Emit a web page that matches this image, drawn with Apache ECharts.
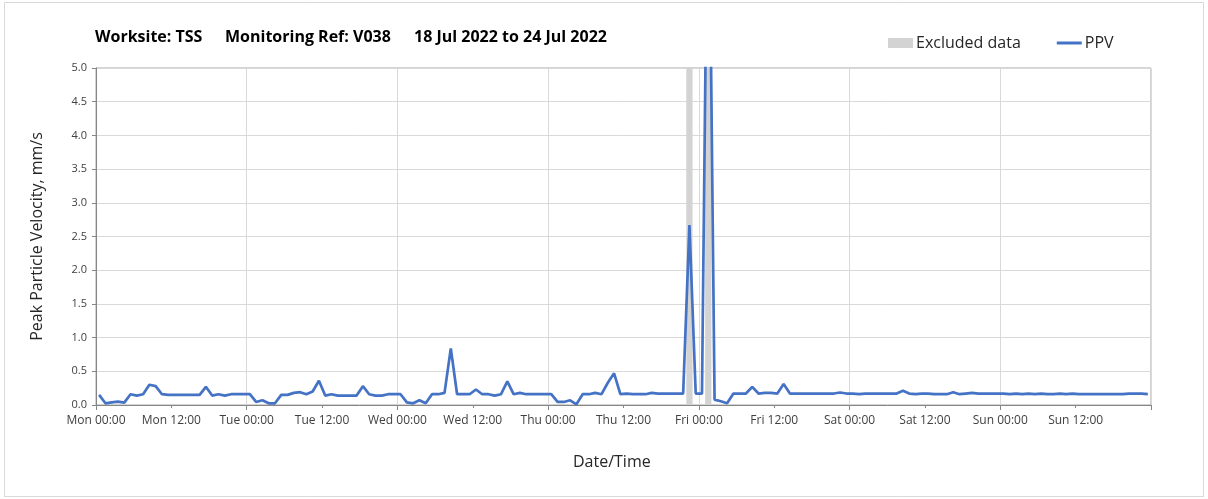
<!DOCTYPE html>
<html>
<head>
<meta charset="utf-8">
<script src="https://cdn.jsdelivr.net/npm/echarts@6/dist/echarts.min.js"></script>
<style>
html,body{margin:0;padding:0;background:#fff;}
#chart{width:1208px;height:499px;}
</style>
</head>
<body>
<div id="chart"></div>
<script>
// Day names for tick labels (axis in hours from Mon 00:00)
const dayNames = ['Mon', 'Tue', 'Wed', 'Thu', 'Fri', 'Sat', 'Sun', 'Mon'];
// Hourly PPV readings (mm/s), Mon 00:00 .. Sun 23:00, plotted at mid-hour
const ppvValues = [
  // Mon
  0.15, 0.025, 0.04, 0.05, 0.035, 0.16, 0.14, 0.16, 0.30, 0.28, 0.16, 0.15,
  0.15, 0.15, 0.15, 0.15, 0.15, 0.27, 0.14, 0.16, 0.14, 0.16, 0.16, 0.16,
  // Tue
  0.16, 0.045, 0.07, 0.025, 0.025, 0.15, 0.15, 0.18, 0.19, 0.16, 0.20, 0.36,
  0.14, 0.16, 0.14, 0.14, 0.14, 0.14, 0.28, 0.16, 0.14, 0.14, 0.16, 0.16,
  // Wed
  0.16, 0.04, 0.025, 0.07, 0.025, 0.16, 0.16, 0.18, 0.84, 0.16, 0.16, 0.16,
  0.23, 0.16, 0.16, 0.14, 0.16, 0.35, 0.16, 0.18, 0.16, 0.16, 0.16, 0.16,
  // Thu
  0.16, 0.045, 0.045, 0.07, 0.01, 0.16, 0.16, 0.18, 0.16, 0.33, 0.47, 0.16,
  0.17, 0.16, 0.16, 0.16, 0.18, 0.17, 0.17, 0.17, 0.17, 0.17, 2.67, 0.17,
  // Fri
  0.17, 9.0, 0.08, 0.055, 0.025, 0.17, 0.17, 0.17, 0.27, 0.17, 0.18, 0.18,
  0.17, 0.31, 0.17, 0.17, 0.17, 0.17, 0.17, 0.17, 0.17, 0.17, 0.185, 0.17,
  // Sat
  0.17, 0.16, 0.17, 0.17, 0.17, 0.17, 0.17, 0.17, 0.21, 0.17, 0.16, 0.17,
  0.17, 0.16, 0.16, 0.16, 0.19, 0.16, 0.17, 0.18, 0.17, 0.17, 0.17, 0.17,
  // Sun
  0.17, 0.16, 0.17, 0.16, 0.17, 0.16, 0.17, 0.16, 0.16, 0.17, 0.16, 0.17,
  0.16, 0.16, 0.16, 0.16, 0.16, 0.16, 0.16, 0.16, 0.17, 0.17, 0.17, 0.16
];
// Excluded-data windows, hours from Mon 00:00
const excludedRanges = [[94, 95], [97, 98]];
const yTicks = [0, 0.5, 1.0, 1.5, 2.0, 2.5, 3.0, 3.5, 4.0, 4.5, 5.0];
const titleParts = ['Worksite: TSS', 'Monitoring Ref: V038', '18 Jul 2022 to 24 Jul 2022'];
const xAxisTitle = 'Date/Time';
const yAxisTitle = 'Peak Particle Velocity, mm/s';

const FONT = '"Open Sans", "DejaVu Sans", sans-serif';
const TXT = '#404040';
const chart = echarts.init(document.getElementById('chart'), null, {renderer: 'canvas'});

const ppvData = ppvValues.map((v, i) => [i + 0.5, v]);

const option = {
  backgroundColor: '#ffffff',
  animation: false,
  textStyle: {fontFamily: FONT},
  graphic: [
    {type: 'rect', shape: {x: 4.5, y: 2.5, width: 1199, height: 494}, style: {fill: 'none', stroke: '#d9d9d9', lineWidth: 1}, silent: true},
    {type: 'text', left: 95, top: 29, style: {text: titleParts[0], font: 'bold 16px ' + FONT, fill: '#000'}},
    {type: 'text', left: 225, top: 29, style: {text: titleParts[1], font: 'bold 16px ' + FONT, fill: '#000'}},
    {type: 'text', left: 414, top: 29, style: {text: titleParts[2], font: 'bold 16px ' + FONT, fill: '#000'}},
    {type: 'text', left: 573, top: 454, style: {text: xAxisTitle, font: '16px ' + FONT, fill: '#262626'}}
  ],
  legend: {
    left: 883, top: 30,
    itemWidth: 25, itemHeight: 10, itemGap: 36,
    symbolKeepAspect: true,
    textStyle: {fontFamily: FONT, fontSize: 16, color: '#262626', padding: [0, 0, 0, -2]},
    data: [
      {name: 'Excluded data', icon: 'rect', itemStyle: {color: '#d3d3d3'}},
      {name: 'PPV', icon: 'path://M0,0L25,0L25,3L0,3Z', itemStyle: {color: '#4472C4'}}
    ]
  },
  grid: {left: 96, right: 57, top: 68, bottom: 94, show: true, borderColor: '#a6a6a6', borderWidth: 1, backgroundColor: 'transparent'},
  xAxis: [
    {
      type: 'value', min: 0, max: 168, interval: 12,
      axisLine: {show: true, lineStyle: {color: '#868686', width: 1}},
      axisTick: {show: true, length: 3, lineStyle: {color: '#868686'}},
      splitLine: {show: false},
      axisLabel: {
        fontFamily: FONT, fontSize: 12, color: TXT, margin: 10,
        showMaxLabel: false,
        formatter: v => v >= 168 ? '' : dayNames[Math.floor(v / 24)] + (v % 24 === 0 ? ' 00:00' : ' 12:00')
      }
    },
    {
      type: 'value', min: 0, max: 168, interval: 24, position: 'bottom',
      axisLine: {show: false},
      axisTick: {show: true, length: 5, lineStyle: {color: '#868686'}},
      axisLabel: {show: false},
      splitLine: {show: true, lineStyle: {color: '#d9d9d9', width: 1}}
    }
  ],
  yAxis: {
    type: 'value', min: 0, max: 5, interval: 0.5,
    name: yAxisTitle, nameLocation: 'middle', nameGap: 51,
    nameTextStyle: {fontFamily: FONT, fontSize: 16, color: '#262626'},
    axisLine: {show: true, lineStyle: {color: '#868686'}},
    axisTick: {show: true, length: 4, lineStyle: {color: '#868686'}},
    splitLine: {show: true, lineStyle: {color: '#d9d9d9', width: 1}},
    axisLabel: {fontFamily: FONT, fontSize: 11, color: TXT, margin: 9, formatter: v => yTicks.includes(v) ? v.toFixed(1) : ''}
  },
  series: [
    {
      name: 'Excluded data', type: 'line', data: [], z: 1,
      itemStyle: {color: '#d3d3d3'},
      markArea: {
        silent: true,
        itemStyle: {color: '#d3d3d3', opacity: 1},
        data: excludedRanges.map(r => [{xAxis: r[0]}, {xAxis: r[1]}])
      }
    },
    {
      name: 'PPV', type: 'line', data: ppvData, z: 3,
      symbol: 'none', clip: true,
      lineStyle: {color: '#4472C4', width: 2.7},
      itemStyle: {color: '#4472C4'}
    }
  ]
};
chart.setOption(option);
</script>
</body>
</html>
